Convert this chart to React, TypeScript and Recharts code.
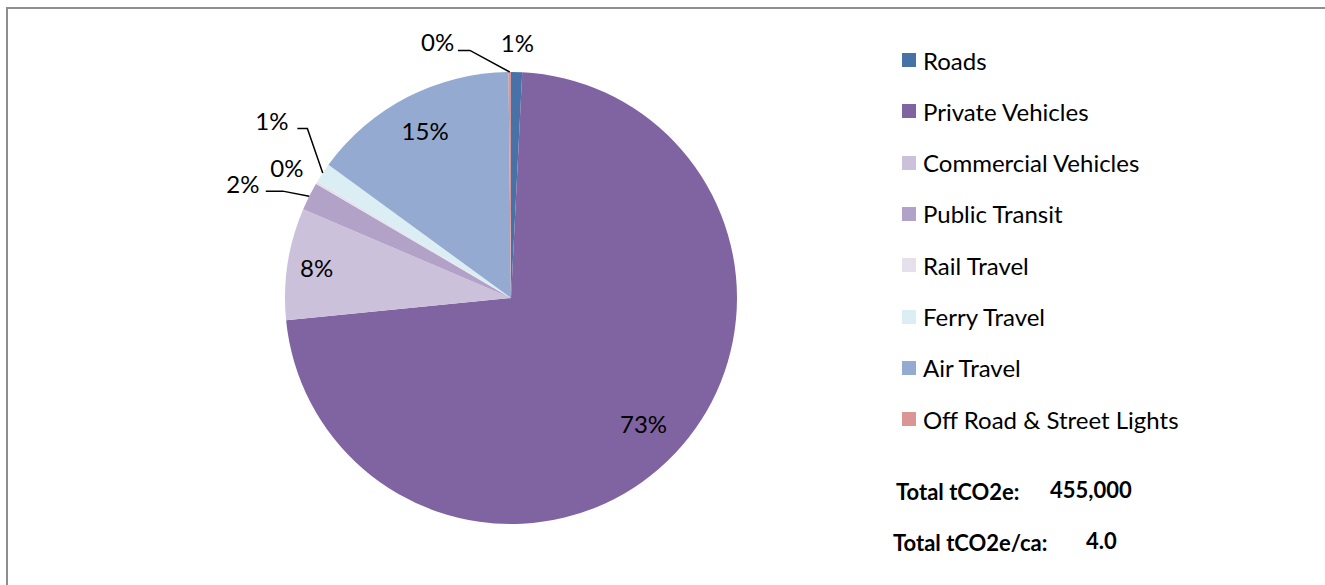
import React from 'react';
import { PieChart, Pie, Cell, Legend } from 'recharts';

const categories = [
  'Roads',
  'Private Vehicles',
  'Commercial Vehicles',
  'Public Transit',
  'Rail Travel',
  'Ferry Travel',
  'Air Travel',
  'Off Road & Street Lights',
];
const emissions = [3600, 330500, 36400, 9100, 900, 6400, 67300, 800];
const colors = ['#4672A8', '#8064A2', '#CCC1DA', '#B3A2C7', '#E6E0EC', '#DBEEF4', '#95AAD0', '#D99694'];

const totalLabel = 'Total tCO2e:';
const totalValue = '455,000';
const perCapitaLabel = 'Total tCO2e/ca:';
const perCapitaValue = '4.0';

const data = categories.map((name, i) => ({ name, value: emissions[i] }));

const FONT = 'Lato, "Open Sans", sans-serif';
const RAD = Math.PI / 180;

// label placement style: radius offset from outer edge (or fraction inside), angular shift (clockwise deg)
type Layout = { inside?: number; out?: number; dTheta: number; elbowOut?: number; elbowDTheta?: number; tail?: number };
const LABEL_LAYOUT: Layout[] = [
  { out: 29, dTheta: 0 },
  { inside: 0.81, dTheta: 0 },
  { inside: 0.87, dTheta: 0 },
  { out: 65, dTheta: -3.85, elbowOut: 26, elbowDTheta: -1.65, tail: 17 },
  { out: 33, dTheta: -0.6 },
  { out: 71, dTheta: 2.8, elbowOut: 39, elbowDTheta: 6.2, tail: 10 },
  { inside: 0.83, dTheta: 0 },
  { out: 40, dTheta: -15.7, elbowOut: 25, elbowDTheta: -9.1, tail: 12 },
];

const polar = (cx: number, cy: number, r: number, theta: number) => ({
  x: cx + r * Math.sin(theta * RAD),
  y: cy - r * Math.cos(theta * RAD),
});

const renderLabel = (props: any) => {
  const { cx, cy, midAngle, outerRadius, percent, index } = props;
  const lay = LABEL_LAYOUT[index];
  const theta = 90 - midAngle; // clockwise from top
  const r = lay.inside !== undefined ? outerRadius * lay.inside : outerRadius + (lay.out || 0);
  const p = polar(cx, cy, r, theta + lay.dTheta);
  const text = `${Math.round(percent * 100)}%`;
  let line = null;
  if (lay.elbowOut !== undefined) {
    const s = polar(cx, cy, outerRadius, theta);
    const e = polar(cx, cy, outerRadius + lay.elbowOut, theta + (lay.elbowDTheta || 0));
    const pts = `${s.x},${s.y} ${e.x},${e.y} ${e.x - (lay.tail || 0)},${e.y}`;
    line = <polyline points={pts} fill="none" stroke="#000" strokeWidth={1.5} />;
  }
  return (
    <g key={`lbl-${index}`}>
      {line}
      <text x={p.x} y={p.y + 8.5} textAnchor="middle" fontFamily={FONT} fontSize={24} fill="#000">
        {text}
      </text>
    </g>
  );
};

const renderLegend = () => (
  <div style={{ fontFamily: FONT, fontSize: 24, color: '#000' }}>
    {categories.map((c, i) => (
      <div key={c} style={{ height: 51.3, display: 'flex', alignItems: 'center' }}>
        <span style={{ width: 14, height: 14, background: colors[i], display: 'inline-block', marginRight: 7 }} />
        <span style={{ lineHeight: '51.3px', whiteSpace: 'nowrap' }}>{c}</span>
      </div>
    ))}
  </div>
);

const totalStyle: React.CSSProperties = { position: 'absolute', fontFamily: FONT, fontWeight: 700, fontSize: 22, whiteSpace: 'nowrap', lineHeight: '26px' };

export default function App() {
  return (
    <div style={{ position: 'absolute', left: 0, top: 0, width: 1325, height: 585, background: '#fff', overflow: 'hidden' }}>
      <div
        style={{
          position: 'absolute',
          left: 6,
          top: 7,
          width: 1325,
          height: 600,
          borderTop: '2px solid #8e8e8e',
          borderLeft: '2px solid #8e8e8e',
        }}
      />
      <div style={{ position: 'absolute', left: 0, top: 0 }}>
        <PieChart width={1325} height={585} margin={{ top: 0, right: 0, bottom: 0, left: 0 }}>
          <Pie
            data={data}
            dataKey="value"
            nameKey="name"
            cx={511}
            cy={298}
            outerRadius={226}
            startAngle={90}
            endAngle={-270}
            stroke="none"
            isAnimationActive={false}
            label={renderLabel}
            labelLine={false}
          >
            {data.map((d, i) => (
              <Cell key={d.name} fill={colors[i]} />
            ))}
          </Pie>
          <Legend
            layout="vertical"
            verticalAlign="top"
            align="right"
            content={renderLegend}
            wrapperStyle={{ position: 'absolute', left: 902, top: 34.5, width: 400 }}
          />
        </PieChart>
      </div>
      <div style={{ ...totalStyle, left: 896, top: 479 }}>{totalLabel}</div>
      <div style={{ ...totalStyle, left: 1050, top: 477 }}>{totalValue}</div>
      <div style={{ ...totalStyle, left: 893, top: 530 }}>{perCapitaLabel}</div>
      <div style={{ ...totalStyle, left: 1086, top: 528 }}>{perCapitaValue}</div>
    </div>
  );
}
